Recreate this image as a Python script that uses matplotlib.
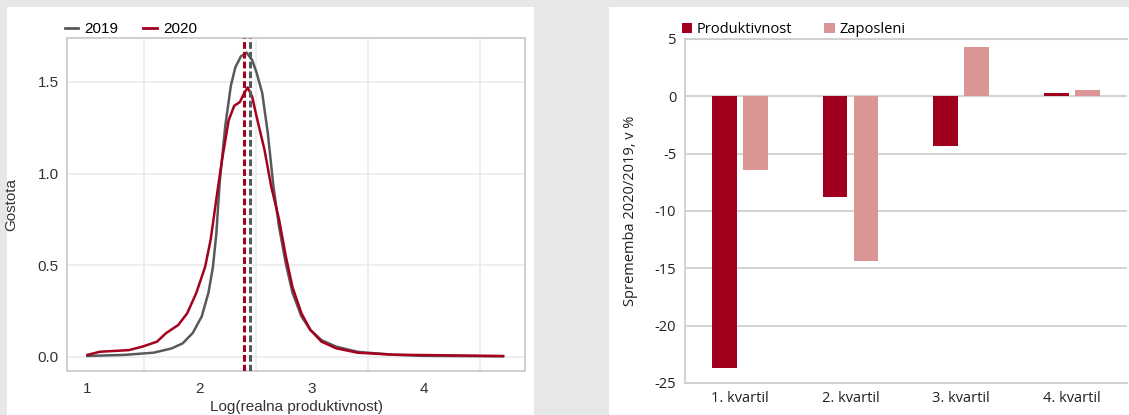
import numpy as np
import matplotlib.pyplot as plt
from matplotlib.patches import Rectangle
from matplotlib.lines import Line2D

plt.rcParams["axes.unicode_minus"] = False

# levo: gostota log(realne produktivnosti)
x_2019 = [1.00, 1.33, 1.59, 1.75, 1.85, 1.94, 2.02, 2.08, 2.12, 2.15, 2.18, 2.23, 2.28, 2.32,
          2.37, 2.42, 2.47, 2.51, 2.56, 2.61, 2.66, 2.71, 2.77, 2.83, 2.91, 2.99, 3.09, 3.22,
          3.41, 3.50, 3.73, 3.98, 4.71]
y_2019 = [0.004, 0.010, 0.022, 0.045, 0.073, 0.13, 0.22, 0.35, 0.49, 0.67, 0.95, 1.26, 1.48, 1.58,
          1.64, 1.66, 1.62, 1.55, 1.44, 1.22, 0.93, 0.71, 0.51, 0.35, 0.22, 0.146, 0.09, 0.055,
          0.027, 0.022, 0.011, 0.005, 0.002]
x_2020 = [1.00, 1.11, 1.37, 1.49, 1.62, 1.70, 1.81, 1.89, 1.97, 2.05, 2.10, 2.15, 2.20, 2.26,
          2.31, 2.36, 2.40, 2.43, 2.47, 2.51, 2.58, 2.64, 2.71, 2.77, 2.83, 2.91, 2.99, 3.09,
          3.22, 3.41, 3.73, 4.71]
y_2020 = [0.010, 0.027, 0.036, 0.055, 0.082, 0.128, 0.173, 0.237, 0.346, 0.49, 0.64, 0.86, 1.07, 1.29,
          1.37, 1.39, 1.44, 1.47, 1.42, 1.31, 1.13, 0.93, 0.75, 0.55, 0.38, 0.237, 0.146, 0.082,
          0.046, 0.022, 0.011, 0.004]
median_2019 = 2.45
median_2020 = 2.40

# desno: sprememba po kvartilih
kvartili = ["1. kvartil", "2. kvartil", "3. kvartil", "4. kvartil"]
produktivnost = [-23.7, -8.8, -4.3, 0.3]
zaposleni = [-6.4, -14.4, 4.3, 0.55]

gray = "#58595b"
red = "#a6001f"
dark_red = "#a0001e"
pink = "#d99694"

fig = plt.figure(figsize=(11.29, 4.15), dpi=100)
fig.patch.set_facecolor("#e6e7e8")
W, H = 1129, 415
fig.add_artist(Rectangle((7 / W, 0), (534 - 7) / W, (H - 7) / H, transform=fig.transFigure,
                         facecolor="white", edgecolor="none", zorder=-5))
fig.add_artist(Rectangle((609 / W, 0), (W - 609) / W, (H - 7) / H, transform=fig.transFigure,
                         facecolor="white", edgecolor="none", zorder=-5))

# ---- levi graf ----
ax1 = fig.add_axes([67 / W, (H - 371) / H, (525 - 67) / W, (371 - 38) / H])
ax1.set_facecolor("white")
ax1.plot(x_2019, y_2019, color=gray, lw=1.8, zorder=3)
ax1.plot(x_2020, y_2020, color=red, lw=1.8, zorder=4)
ax1.axvline(median_2020, color=red, lw=2.2, ls=(0, (2.2, 1.0)), zorder=5)
ax1.axvline(median_2019, color=gray, lw=2.2, ls=(0, (2.2, 1.0)), zorder=5)
ax1.set_xlim(0.817, 4.906)
ax1.set_ylim(-0.078, 1.74)
ax1.set_xticks([1, 2, 3, 4])
ax1.set_xticks([1.5, 2.5, 3.5, 4.5], minor=True)
ax1.set_yticks([0, 0.5, 1.0, 1.5])
ax1.set_yticklabels(["0.0", "0.5", "1.0", "1.5"])
ax1.grid(False, which="major", axis="x")
ax1.grid(True, which="minor", axis="x", color="#ebebeb", lw=1.2)
ax1.grid(True, which="major", axis="y", color="#ebebeb", lw=1.2)
ax1.set_axisbelow(True)
ax1.tick_params(which="both", length=0, labelsize=11, colors="#333333", pad=6)
ax1.tick_params(axis="x", pad=8)
for s in ax1.spines.values():
    s.set_color("#cccccc")
    s.set_linewidth(1.3)
for lab in ax1.get_xticklabels() + ax1.get_yticklabels():
    lab.set_family("Liberation Sans")
ax1.set_xlabel("Log(realna produktivnost)", fontsize=11, family="Liberation Sans",
               color="#333333", labelpad=3)
ax1.set_ylabel("Gostota", fontsize=11, family="Liberation Sans", color="#333333", labelpad=14)
handles1 = [Line2D([], [], color=gray, lw=2), Line2D([], [], color=red, lw=2)]
ax1.legend(handles1, ["2019", "2020"], loc="lower left", bbox_to_anchor=(-0.005, 1.005), ncol=2,
           frameon=False, handlelength=0.9, handletextpad=0.4, columnspacing=1.6,
           prop={"family": "Liberation Sans", "size": 11}, borderaxespad=0, borderpad=0)

# ---- desni graf ----
ax2 = fig.add_axes([684.5 / W, (H - 383) / H, (1127 - 684.5) / W, (383 - 39) / H])
x = np.arange(len(kvartili))
ax2.bar(x - 0.14, produktivnost, width=0.224, color=dark_red, zorder=3, label="Produktivnost")
ax2.bar(x + 0.14, zaposleni, width=0.224, color=pink, zorder=3, label="Zaposleni")
ax2.set_xlim(-0.5, 3.5)
ax2.set_ylim(-25, 5)
ax2.set_yticks(np.arange(-25, 6, 5))
ax2.set_xticks(x)
ax2.set_xticklabels(kvartili)
ax2.grid(True, axis="y", color="#d4d4d4", lw=1.5)
ax2.set_axisbelow(True)
ax2.tick_params(length=0, labelsize=10.5, colors="#231f20", pad=6)
for s in ax2.spines.values():
    s.set_color("#cfcfcf")
    s.set_linewidth(1.3)
ax2.spines["right"].set_visible(False)
for lab in ax2.get_xticklabels() + ax2.get_yticklabels():
    lab.set_family("Open Sans")
ax2.set_ylabel("Sprememba 2020/2019, v %", fontsize=10.5, family="Open Sans", color="#231f20",
               labelpad=12)
ax2.legend(loc="lower left", bbox_to_anchor=(-0.005, 1.005), ncol=2, frameon=False,
           handlelength=0.7, handleheight=0.7, handletextpad=0.3, columnspacing=2.2,
           prop={"family": "Open Sans", "size": 10.5}, borderaxespad=0, borderpad=0)

fig.savefig("out.png", dpi=100, facecolor=fig.get_facecolor())
